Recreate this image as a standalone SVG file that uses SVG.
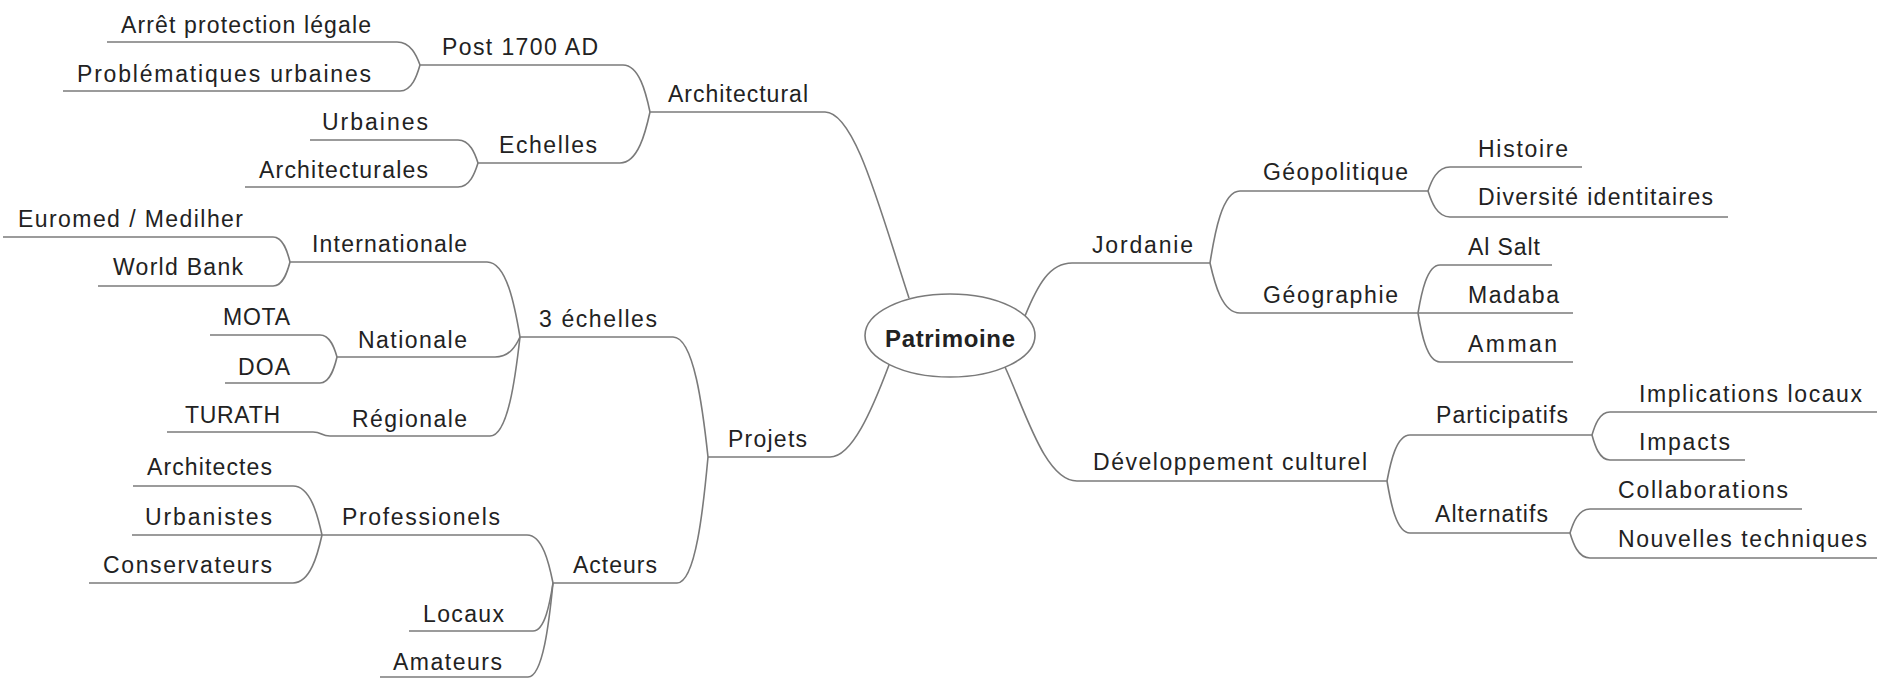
<svg xmlns="http://www.w3.org/2000/svg" width="1877" height="679" viewBox="0 0 1877 679">
<style>
text{font-family:"Liberation Sans",Arial,sans-serif;font-size:23px;fill:#222}
.u{stroke:#7a7a7a;stroke-width:1.6;fill:none}
.c{stroke:#7a7a7a;stroke-width:1.6;fill:none}
.root{font-weight:bold;font-size:24px}
</style>
<rect width="1877" height="679" fill="#fff"/>
<g id="connectors">
<path class="c" d="M825,112 C855,112 880,210 909,298"/>
<path class="c" d="M830,457 C852,457 872,410 889,365"/>
<path class="c" d="M1025,316 C1038,284 1050,263 1072,263"/>
<path class="c" d="M1005,367 C1025,410 1045,481 1077,481"/>
<path class="c" d="M623,65 C639.2,65 646,93.2 650,112"/>
<path class="c" d="M620,163 C638,163 645.5,132.4 650,112"/>
<path class="c" d="M397,42 C410.8,42 416.6,55.8 420,65"/>
<path class="c" d="M400,91 C412,91 417,75.4 420,65"/>
<path class="c" d="M458,140 C470,140 475,153.8 478,163"/>
<path class="c" d="M458,187 C470,187 475,172.6 478,163"/>
<path class="c" d="M673,337 C694,337 702.8,409 708,457"/>
<path class="c" d="M677,583 C695.6,583 703.4,507.4 708,457"/>
<path class="c" d="M487,262 C506.8,262 515,307 520,337"/>
<path class="c" d="M495,357 C510,357 516.3,345 520,337"/>
<path class="c" d="M490,436 C508,436 515.5,376.6 520,337"/>
<path class="c" d="M273,237 C283.2,237 287.5,252 290,262"/>
<path class="c" d="M273,286 C283.2,286 287.5,271.6 290,262"/>
<path class="c" d="M320,335 C330.2,335 334.5,348.2 337,357"/>
<path class="c" d="M320,383 C330.2,383 334.5,367.4 337,357"/>
<path class="c" d="M313,432 C322,432 321,436 330,436"/>
<path class="c" d="M527,535 C542.6,535 549.1,563.8 553,583"/>
<path class="c" d="M533,631 C545,631 550,602.2 553,583"/>
<path class="c" d="M528,677 C543,677 549.3,620.6 553,583"/>
<path class="c" d="M293,486 C310.4,486 317.7,515.4 322,535"/>
<path class="c" d="M293,583 C310.4,583 317.7,554.2 322,535"/>
<path class="c" d="M1210,263 C1214.5,234.2 1222,191 1240,191"/>
<path class="c" d="M1210,263 C1214.5,283 1222,313 1240,313"/>
<path class="c" d="M1428,191 C1431.3,181.4 1436.8,167 1450,167"/>
<path class="c" d="M1428,191 C1431.3,201.4 1436.8,217 1450,217"/>
<path class="c" d="M1418,313 C1421.3,293.8 1426.8,265 1440,265"/>
<path class="c" d="M1418,313 C1421.3,332.6 1426.8,362 1440,362"/>
<path class="c" d="M1387,481 C1390.5,462.6 1396.2,435 1410,435"/>
<path class="c" d="M1387,481 C1390.5,501.8 1396.2,533 1410,533"/>
<path class="c" d="M1592,435 C1594.7,425.8 1599.2,412 1610,412"/>
<path class="c" d="M1592,435 C1594.7,445 1599.2,460 1610,460"/>
<path class="c" d="M1570,533 C1573,523.4 1578,509 1590,509"/>
<path class="c" d="M1570,533 C1573,543 1578,558 1590,558"/>
</g>
<g id="patrimoine">
<ellipse cx="950" cy="335.5" rx="85" ry="41.5" fill="#fff" stroke="#7a7a7a" stroke-width="1.6"/>
<text class="root" x="885" y="347" textLength="130" lengthAdjust="spacing">Patrimoine</text>
</g>
<g id="architectural"><path class="u" d="M650,112 H825"/><text x="668" y="102" textLength="140" lengthAdjust="spacing">Architectural</text></g>
<g id="post1700"><path class="u" d="M420,65 H623"/><text x="442" y="55" textLength="156" lengthAdjust="spacing">Post 1700 AD</text></g>
<g id="arret"><path class="u" d="M107,42 H397"/><text x="121" y="33" textLength="250" lengthAdjust="spacing">Arrêt protection légale</text></g>
<g id="problematiques"><path class="u" d="M63,91 H400"/><text x="77" y="82" textLength="294" lengthAdjust="spacing">Problématiques urbaines</text></g>
<g id="echelles"><path class="u" d="M478,163 H620"/><text x="499" y="153" textLength="98" lengthAdjust="spacing">Echelles</text></g>
<g id="urbaines"><path class="u" d="M310,140 H458"/><text x="322" y="130" textLength="106" lengthAdjust="spacing">Urbaines</text></g>
<g id="architecturales"><path class="u" d="M245,187 H458"/><text x="259" y="178" textLength="169" lengthAdjust="spacing">Architecturales</text></g>
<g id="projets"><path class="u" d="M708,457 H830"/><text x="728" y="447" textLength="79" lengthAdjust="spacing">Projets</text></g>
<g id="trois-echelles"><path class="u" d="M520,337 H673"/><text x="539" y="327" textLength="118" lengthAdjust="spacing">3 échelles</text></g>
<g id="internationale"><path class="u" d="M290,262 H487"/><text x="312" y="252" textLength="155" lengthAdjust="spacing">Internationale</text></g>
<g id="euromed"><path class="u" d="M3,237 H273"/><text x="18" y="227" textLength="225" lengthAdjust="spacing">Euromed / Medilher</text></g>
<g id="worldbank"><path class="u" d="M98,286 H273"/><text x="113" y="275" textLength="130" lengthAdjust="spacing">World Bank</text></g>
<g id="nationale"><path class="u" d="M337,357 H495"/><text x="358" y="348" textLength="109" lengthAdjust="spacing">Nationale</text></g>
<g id="mota"><path class="u" d="M210,335 H320"/><text x="223" y="325" textLength="67" lengthAdjust="spacing">MOTA</text></g>
<g id="doa"><path class="u" d="M225,383 H320"/><text x="238" y="375" textLength="52" lengthAdjust="spacing">DOA</text></g>
<g id="regionale"><path class="u" d="M330,436 H490"/><text x="352" y="427" textLength="115" lengthAdjust="spacing">Régionale</text></g>
<g id="turath"><path class="u" d="M167,432 H313"/><text x="185" y="423" textLength="95" lengthAdjust="spacing">TURATH</text></g>
<g id="acteurs"><path class="u" d="M553,583 H677"/><text x="573" y="573" textLength="84" lengthAdjust="spacing">Acteurs</text></g>
<g id="professionels"><path class="u" d="M322,535 H527"/><text x="342" y="525" textLength="158" lengthAdjust="spacing">Professionels</text></g>
<g id="architectes"><path class="u" d="M133,486 H293"/><text x="147" y="475" textLength="125" lengthAdjust="spacing">Architectes</text></g>
<g id="urbanistes"><path class="u" d="M132,535 H322"/><text x="145" y="525" textLength="127" lengthAdjust="spacing">Urbanistes</text></g>
<g id="conservateurs"><path class="u" d="M89,583 H293"/><text x="103" y="573" textLength="169" lengthAdjust="spacing">Conservateurs</text></g>
<g id="locaux"><path class="u" d="M409,631 H533"/><text x="423" y="622" textLength="81" lengthAdjust="spacing">Locaux</text></g>
<g id="amateurs"><path class="u" d="M380,677 H528"/><text x="393" y="670" textLength="109" lengthAdjust="spacing">Amateurs</text></g>
<g id="jordanie"><path class="u" d="M1072,263 H1210"/><text x="1092" y="253" textLength="101" lengthAdjust="spacing">Jordanie</text></g>
<g id="geopolitique"><path class="u" d="M1240,191 H1428"/><text x="1263" y="180" textLength="145" lengthAdjust="spacing">Géopolitique</text></g>
<g id="histoire"><path class="u" d="M1450,167 H1582"/><text x="1478" y="157" textLength="90" lengthAdjust="spacing">Histoire</text></g>
<g id="diversite"><path class="u" d="M1450,217 H1728"/><text x="1478" y="205" textLength="235" lengthAdjust="spacing">Diversité identitaires</text></g>
<g id="geographie"><path class="u" d="M1240,313 H1418"/><text x="1263" y="303" textLength="135" lengthAdjust="spacing">Géographie</text></g>
<g id="alsalt"><path class="u" d="M1440,265 H1552"/><text x="1468" y="255" textLength="72" lengthAdjust="spacing">Al Salt</text></g>
<g id="madaba"><path class="u" d="M1418,313 H1573"/><text x="1468" y="303" textLength="91" lengthAdjust="spacing">Madaba</text></g>
<g id="amman"><path class="u" d="M1440,362 H1573"/><text x="1468" y="352" textLength="89" lengthAdjust="spacing">Amman</text></g>
<g id="developpement"><path class="u" d="M1077,481 H1387"/><text x="1093" y="470" textLength="274" lengthAdjust="spacing">Développement culturel</text></g>
<g id="participatifs"><path class="u" d="M1410,435 H1592"/><text x="1436" y="423" textLength="132" lengthAdjust="spacing">Participatifs</text></g>
<g id="implications"><path class="u" d="M1610,412 H1877"/><text x="1639" y="402" textLength="223" lengthAdjust="spacing">Implications locaux</text></g>
<g id="impacts"><path class="u" d="M1610,460 H1745"/><text x="1639" y="450" textLength="91" lengthAdjust="spacing">Impacts</text></g>
<g id="alternatifs"><path class="u" d="M1410,533 H1570"/><text x="1435" y="522" textLength="113" lengthAdjust="spacing">Alternatifs</text></g>
<g id="collaborations"><path class="u" d="M1590,509 H1802"/><text x="1618" y="498" textLength="170" lengthAdjust="spacing">Collaborations</text></g>
<g id="nouvelles"><path class="u" d="M1590,558 H1877"/><text x="1618" y="547" textLength="249" lengthAdjust="spacing">Nouvelles techniques</text></g>
</svg>
